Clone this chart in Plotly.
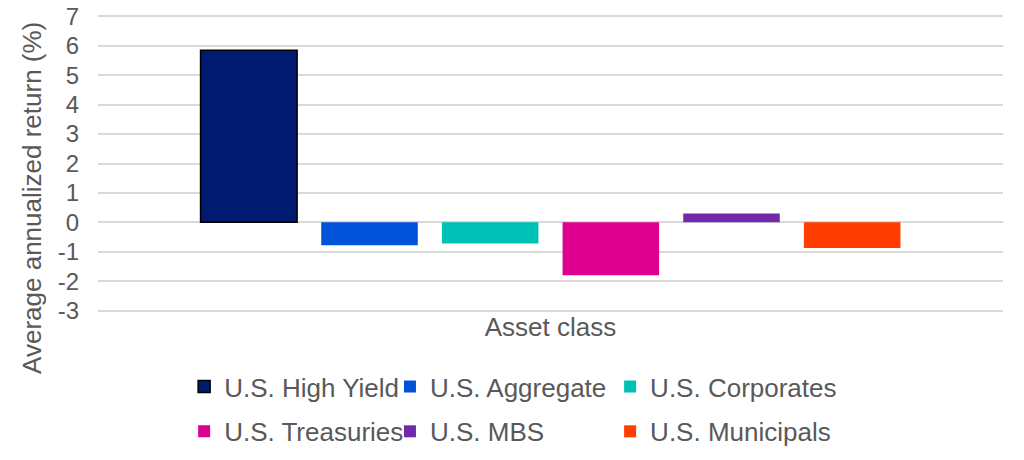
import plotly.graph_objects as go

categories = ["Asset class"]
series_names = ["U.S. High Yield", "U.S. Aggregate", "U.S. Corporates",
                "U.S. Treasuries", "U.S. MBS", "U.S. Municipals"]
series_values = [5.85, -0.78, -0.72, -1.8, 0.3, -0.87]
colors = ["#001A72", "#0053D9", "#00C1B5", "#E0008F", "#7029A8", "#FF3D00"]
y_ticks = [-3, -2, -1, 0, 1, 2, 3, 4, 5, 6, 7]

FONT = "Liberation Sans, Arial, sans-serif"
GRAY = "#595959"
FS = 26

# legend column for each series (legend layout: 3 columns x 2 rows)
legend_ids = ["legend", "legend2", "legend3", "legend", "legend2", "legend3"]

fig = go.Figure()
for i, (name, val, col) in enumerate(zip(series_names, series_values, colors)):
    fig.add_trace(go.Bar(
        x=categories, y=[val], name=name,
        marker=dict(color=col,
                    line=dict(color="#000000" if i == 0 else col, width=1.5 if i == 0 else 0)),
        legend=legend_ids[i], legendgroup=f"g{i}",
    ))

def leg(xpos):
    return dict(orientation="v", xref="container", yref="container",
                x=xpos, y=0.128, xanchor="left", yanchor="middle",
                tracegroupgap=8, font=dict(size=FS, color=GRAY),
                itemclick=False, bgcolor="rgba(0,0,0,0)")

fig.update_layout(
    width=1024, height=460,
    margin=dict(l=90, r=29, t=6, b=155, autoexpand=False),
    paper_bgcolor="white", plot_bgcolor="white",
    barmode="group", bargap=0.2, bargroupgap=0.2,
    font=dict(family=FONT, color=GRAY, size=FS),
    showlegend=True,
    legend=leg(0.172), legend2=leg(0.373), legend3=leg(0.588),
    xaxis=dict(showticklabels=False, showline=False, showgrid=False, ticks="",
               automargin=False,
               title=dict(text="Asset class", standoff=4, font=dict(size=FS, color=GRAY))),
    yaxis=dict(range=[-3.08, 7.08], tickvals=y_ticks, ticktext=[str(v) for v in y_ticks],
               showgrid=True, gridcolor="#D9D9D9", gridwidth=1.5,
               zeroline=True, zerolinecolor="#D9D9D9", zerolinewidth=1.5,
               showline=False, ticks="", ticklabelstandoff=18, automargin=False,
               ticklabeloverflow="allow",
               tickfont=dict(size=24, color=GRAY)),
    annotations=[dict(text="Average annualized return (%)", textangle=-90,
                      xref="paper", yref="paper", x=-0.073, y=0.98,
                      xanchor="center", yanchor="top", showarrow=False,
                      font=dict(size=FS, color=GRAY))],
)

fig.write_html("out.html")
